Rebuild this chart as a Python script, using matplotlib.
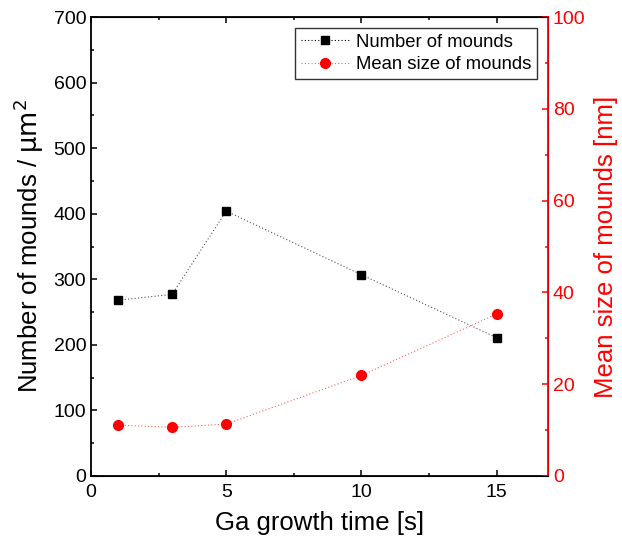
import matplotlib
matplotlib.use("Agg")
import matplotlib.pyplot as plt
from matplotlib.ticker import MultipleLocator

plt.rcParams["font.family"] = ["Liberation Sans", "DejaVu Sans"]

# growth time [s]
growth_time = [1, 3, 5, 10, 15]
# number of mounds per um^2
n_mounds = [268, 277, 404, 307, 211]
# mean size of mounds [nm]
mean_size = [11.1, 10.6, 11.3, 21.9, 35.3]

fig = plt.figure(figsize=(6.22, 5.42), dpi=100)
ax = fig.add_axes([0.1463, 0.1218, 0.881 - 0.1463, 0.9686 - 0.1218])
ax2 = ax.twinx()

# lines drawn lighter than the markers, as in the original
ax.plot(growth_time, n_mounds, color="#555555", ls=(0, (1, 2)), lw=0.8)
ax2.plot(growth_time, mean_size, color="#ff6060", ls=(0, (1, 2)), lw=0.8)
ax.plot(growth_time, n_mounds, ls="none", marker="s", ms=6, mec="black", mfc="black")
ax2.plot(growth_time, mean_size, ls="none", marker="o", ms=7, mec="red", mfc="red")

# legend handles
l1, = ax.plot([], [], color="black", ls=(0, (1, 2)), lw=0.8,
              marker="s", ms=6, mec="black", mfc="black", label="Number of mounds")
l2, = ax.plot([], [], color="#ff6060", ls=(0, (1, 2)), lw=0.8,
              marker="o", ms=7, mec="red", mfc="red", label="Mean size of mounds")

ax.set_xlim(0, 16.9)
ax.set_ylim(0, 700)
ax2.set_ylim(0, 100)

ax.xaxis.set_major_locator(MultipleLocator(5))
ax.xaxis.set_minor_locator(MultipleLocator(2.5))
ax.yaxis.set_major_locator(MultipleLocator(100))
ax.yaxis.set_minor_locator(MultipleLocator(50))
ax2.yaxis.set_major_locator(MultipleLocator(20))
ax2.yaxis.set_minor_locator(MultipleLocator(10))

ax.tick_params(which="both", direction="in", top=True, right=False, labelsize=14, width=1.1)
ax.tick_params(which="major", length=4)
ax.tick_params(which="minor", length=2.5)
ax.tick_params(axis="x", pad=6)
ax2.tick_params(which="both", direction="in", colors="red", labelsize=14, width=1.1)
ax2.tick_params(which="major", length=4)
ax2.tick_params(which="minor", length=2.5)

for s in ["left", "bottom", "top"]:
    ax.spines[s].set_linewidth(1.3)
ax2.spines["right"].set_color("red")
ax2.spines["right"].set_linewidth(1.3)
ax2.spines["left"].set_visible(False)

ax.set_xlabel("Ga growth time [s]", fontsize=18.5, labelpad=7)
ax.set_ylabel(r"Number of mounds / $\mathrm{\mu m}^2$", fontsize=18.5, labelpad=5)
ax2.set_ylabel("Mean size of mounds [nm]", fontsize=18.5, color="red", labelpad=6)

leg = ax.legend(handles=[l1, l2], loc="upper right", fontsize=13.3, frameon=True,
                fancybox=False, borderpad=0.3, labelspacing=0.3, handlelength=2.6,
                handletextpad=0.4, borderaxespad=0.6)
leg.get_frame().set_edgecolor("black")
leg.get_frame().set_linewidth(1.0)

fig.savefig("out.png", dpi=100)
